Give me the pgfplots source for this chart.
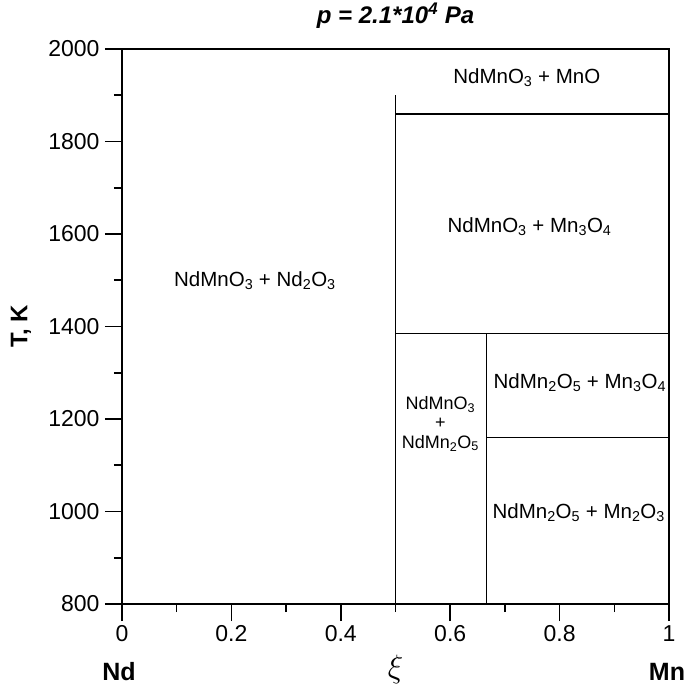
\documentclass[border=0pt]{standalone}
\usepackage{pgfplots}
\pgfplotsset{compat=1.18}
\usepackage{fontspec}
\setmainfont{Liberation Sans}
\begin{document}
\begin{tikzpicture}
\begin{axis}[
 scale only axis, width=547pt, height=555pt,
 xmin=0, xmax=1, ymin=800, ymax=2000,
 xtick={0,0.2,0.4,0.6,0.8,1}, ytick={800,1000,1200,1400,1600,1800,2000},
 minor x tick num=1, minor y tick num=1,
 tick align=outside, xtick pos=bottom, ytick pos=left,
 major tick length=17pt, minor tick length=8pt,
 every tick/.style={black, line width=1.6pt},
 axis line style={line width=1.6pt},
 tick label style={font=\fontsize{23}{26}\selectfont},
 xticklabel style={yshift=-1pt},
 yticklabel style={xshift=-2pt},
 /pgf/number format/assume math mode=true,
 /pgf/number format/1000 sep={},
 clip=false,
 title={\fontsize{24}{28}\selectfont\bfseries\itshape p = 2.1*10\textsuperscript{4} Pa},
 title style={at={([yshift=19pt]axis description cs:0.5,1)}, anchor=base},
 ylabel={\fontsize{24}{28}\selectfont\bfseries T, K},
 ylabel style={at={([xshift=-101pt]axis description cs:0,0.5)}, anchor=center},
]
\addplot[black, line width=1.6pt] coordinates {(0.5,800) (0.5,1900)};
\addplot[black, line width=1.6pt] coordinates {(0.5,1860) (1,1860)};
\addplot[black, line width=1.6pt] coordinates {(0.5,1385) (1,1385)};
\addplot[black, line width=1.6pt] coordinates {(0.6667,800) (0.6667,1385)};
\addplot[black, line width=1.6pt] coordinates {(0.6667,1160) (1,1160)};

\begin{scope}[every node/.style={font=\fontsize{20.5}{23}\selectfont, align=center}]
\node at (axis cs:0.74,1938) {NdMnO\textsubscript{3} + MnO};
\node at (axis cs:0.745,1615) {NdMnO\textsubscript{3} + Mn\textsubscript{3}O\textsubscript{4}};
\node at (axis cs:0.243,1500) {NdMnO\textsubscript{3} + Nd\textsubscript{2}O\textsubscript{3}};
\node at (axis cs:0.837,1278) {NdMn\textsubscript{2}O\textsubscript{5} + Mn\textsubscript{3}O\textsubscript{4}};
\node[font=\fontsize{18}{19.5}\selectfont] at (axis cs:0.582,1190) {NdMnO\textsubscript{3}\\+\\NdMn\textsubscript{2}O\textsubscript{5}};
\node at (axis cs:0.835,997) {NdMn\textsubscript{2}O\textsubscript{5} + Mn\textsubscript{2}O\textsubscript{3}};
\end{scope}
\node[font=\fontsize{25}{28}\selectfont\bfseries, anchor=base] at ([yshift=-76pt,xshift=-3pt]rel axis cs:0,0) {Nd};
\node[font=\fontsize{24.88}{28}\selectfont, scale=1.3] at ([yshift=-65pt]rel axis cs:0.5,0) {$\xi$};
\node[font=\fontsize{25}{28}\selectfont\bfseries, anchor=base] at ([yshift=-76pt,xshift=-2pt]rel axis cs:1,0) {Mn};
\end{axis}
\pgfresetboundingbox
\path[use as bounding box] ([xshift=-122pt,yshift=-84pt]current axis.south west) rectangle ([xshift=17pt,yshift=49pt]current axis.north east);
\end{tikzpicture}
\end{document}
